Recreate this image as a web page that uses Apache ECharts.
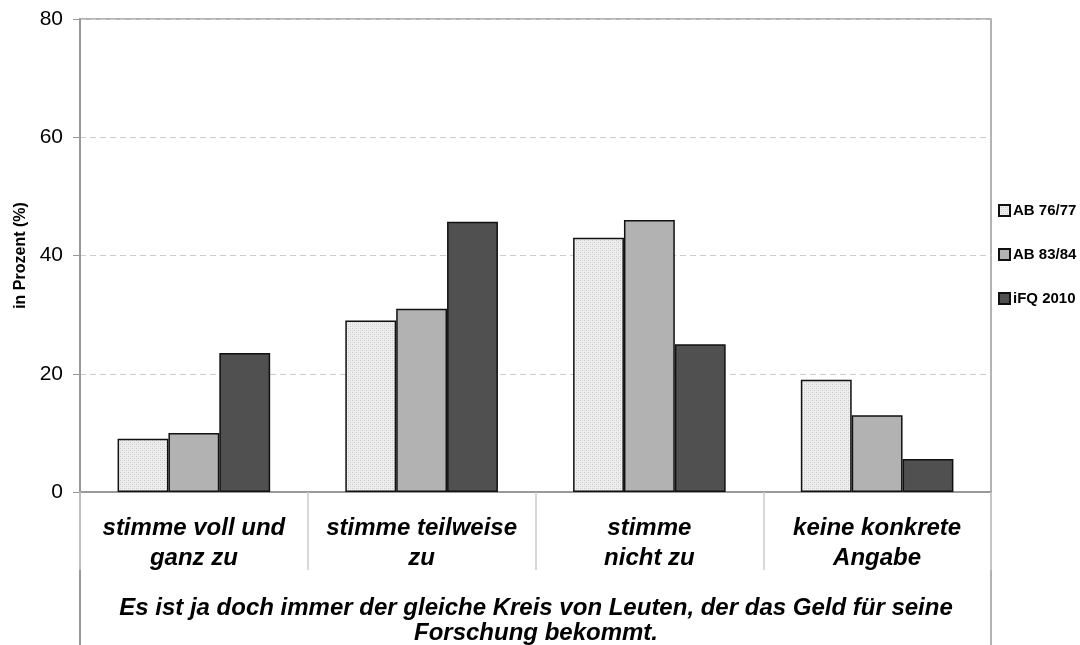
<!DOCTYPE html>
<html>
<head>
<meta charset="utf-8">
<script src="https://cdn.jsdelivr.net/npm/echarts@6/dist/echarts.min.js"></script>
<style>
  html, body { margin: 0; padding: 0; background: #fff; }
  #myChart { width: 1080px; height: 645px; }
</style>
</head>
<body>
<div id="myChart"></div>
<script>
const categories = ['stimme voll und\nganz zu', 'stimme teilweise\nzu', 'stimme\nnicht zu', 'keine konkrete\nAngabe'];
const seriesNames = ['AB 76/77', 'AB 83/84', 'iFQ 2010'];
const ab7677 = [9, 29, 43, 19];
const ab8384 = [10, 31, 46, 13];
const ifq2010 = [23.5, 45.7, 25, 5.6];
const yTicks = [0, 20, 40, 60, 80];

// dotted fill like the original excel pattern
function dotPattern () {
  const c = document.createElement('canvas');
  c.width = 4; c.height = 4;
  const ctx = c.getContext('2d');
  ctx.fillStyle = '#eeeeee';
  ctx.fillRect(0, 0, 4, 4);
  ctx.fillStyle = '#c8c8c8';
  ctx.fillRect(0, 0, 1, 1);
  ctx.fillRect(2, 2, 1, 1);
  ctx.fillStyle = '#dcdcdc';
  ctx.fillRect(2, 0, 1, 1);
  ctx.fillRect(0, 2, 1, 1);
  return c;
}

const fills = [{ image: dotPattern(), repeat: 'repeat' }, '#b2b2b2', '#505050'];
const values = [ab7677, ab8384, ifq2010];
const font = 'Liberation Sans, Arial';

let myChart = echarts.init(document.getElementById('myChart'));
let option = {
  animation: false,
  title: {
    text: 'Es ist ja doch immer der gleiche Kreis von Leuten, der das Geld für seine\nForschung bekommt.',
    left: 536,
    top: 596,
    padding: 0,
    textAlign: 'center',
    textStyle: {
      fontFamily: font,
      fontSize: 24,
      fontWeight: 'bold',
      fontStyle: 'italic',
      color: '#000',
      lineHeight: 25
    }
  },
  legend: {
    orient: 'vertical',
    left: 998,
    top: 203,
    padding: 0,
    icon: 'rect',
    itemWidth: 11,
    itemHeight: 11,
    itemGap: 29,
    textStyle: {
      fontFamily: font,
      fontSize: 15,
      fontWeight: 'bold',
      color: '#000',
      padding: [0, 0, 0, -2]
    },
    data: seriesNames
  },
  grid: {
    left: 80,
    right: 89,
    top: 19,
    bottom: 153,
    show: true,
    borderColor: '#999',
    borderWidth: 1.5
  },
  xAxis: {
    type: 'category',
    data: categories,
    axisLine: { lineStyle: { color: '#999', width: 2 } },
    axisTick: { show: true, interval: 0, length: 78, lineStyle: { color: '#ccc', width: 1.5 } },
    axisLabel: {
      interval: 0,
      margin: 21,
      fontFamily: font,
      fontSize: 24,
      fontWeight: 'bold',
      fontStyle: 'italic',
      color: '#000',
      lineHeight: 30
    }
  },
  yAxis: {
    type: 'value',
    min: yTicks[0],
    max: yTicks[yTicks.length - 1],
    interval: 20,
    name: 'in Prozent (%)',
    nameLocation: 'middle',
    nameGap: 50,
    nameRotate: 90,
    nameTextStyle: {
      fontFamily: font,
      fontSize: 16,
      fontWeight: 'bold',
      color: '#000'
    },
    axisLine: { show: true, lineStyle: { color: '#999', width: 2 } },
    axisTick: { show: true, length: 7, lineStyle: { color: '#999' } },
    axisLabel: {
      margin: 17,
      fontFamily: font,
      fontSize: 21,
      color: '#000'
    },
    splitLine: { lineStyle: { color: '#ccc', type: [6, 4] } }
  },
  graphic: [
    { type: 'line', shape: { x1: 80, y1: 492, x2: 80, y2: 645 }, style: { stroke: '#999', lineWidth: 2 } },
    { type: 'line', shape: { x1: 991, y1: 492, x2: 991, y2: 645 }, style: { stroke: '#999', lineWidth: 1.5 } }
  ],
  series: seriesNames.map((name, i) => ({
    name: name,
    type: 'bar',
    data: values[i],
    barGap: '0%',
    barCategoryGap: '33%',
    itemStyle: {
      color: fills[i],
      borderColor: '#111',
      borderWidth: 1.5
    }
  }))
};
myChart.setOption(option, true);
</script>
</body>
</html>
